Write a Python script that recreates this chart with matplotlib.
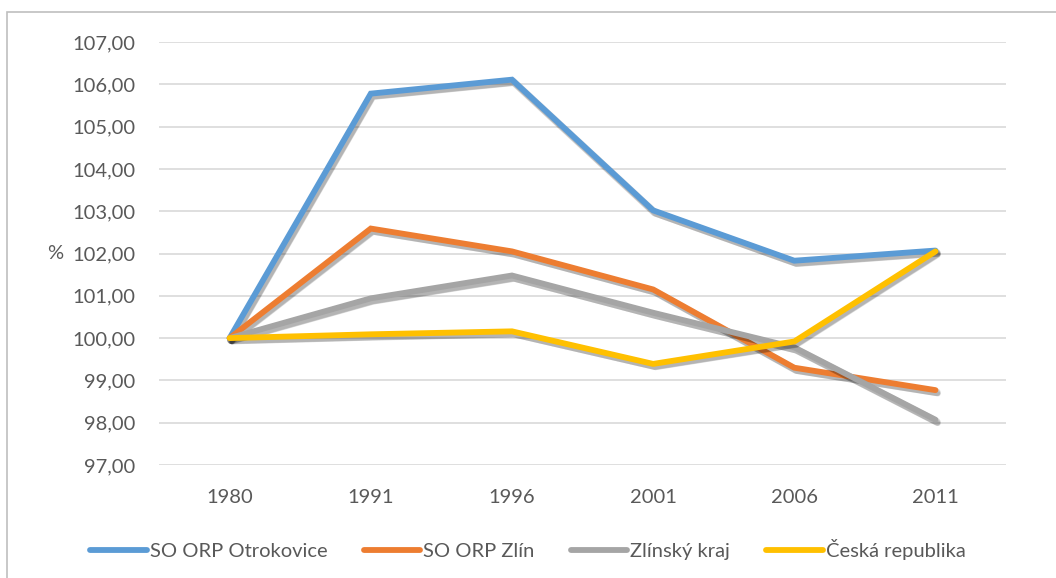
import matplotlib

matplotlib.use("Agg")

import matplotlib.patheffects as pe
import matplotlib.pyplot as plt
from matplotlib.lines import Line2D
from matplotlib.patches import Rectangle
from matplotlib.ticker import FuncFormatter

years = ["1980", "1991", "1996", "2001", "2006", "2011"]
otrokovice = [100.00, 105.78, 106.11, 103.02, 101.83, 102.07]
zlin = [100.00, 102.59, 102.05, 101.15, 99.30, 98.77]
zlinsky_kraj = [100.00, 100.94, 101.48, 100.60, 99.78, 98.07]
ceska_republika = [100.00, 100.09, 100.16, 99.39, 99.92, 102.05]

series = [
    ("SO ORP Otrokovice", otrokovice, "#5B9BD5"),
    ("SO ORP Zlín", zlin, "#ED7D31"),
    ("Zlínský kraj", zlinsky_kraj, "#A5A5A5"),
    ("Česká republika", ceska_republika, "#FFC000"),
]

plt.rcParams["font.family"] = ["Lato", "DejaVu Sans"]
text_color = "#595959"
font_size = 14.5

fig = plt.figure(figsize=(10.56, 5.78), dpi=100)
ax = fig.add_axes([0.1506, 0.1955, 0.8021, 0.7318])

# soft drop shadow: a few faint offset copies under the line
shadow = [
    pe.SimpleLineShadow(offset=(1.0, -1.5), alpha=0.12, shadow_color="black", linewidth=5.5),
    pe.SimpleLineShadow(offset=(1.5, -2.2), alpha=0.12, shadow_color="black", linewidth=4.5),
    pe.SimpleLineShadow(offset=(2.0, -2.8), alpha=0.08, shadow_color="black", linewidth=3.5),
    pe.Normal(),
]
positions = list(range(len(years)))
handles = []
for name, values, color in series:
    ax.plot(positions, values, color=color, linewidth=4.2,
            solid_joinstyle="miter", solid_capstyle="round", path_effects=shadow)
    handles.append(Line2D([], [], color=color, linewidth=4.2, solid_capstyle="round", label=name))

ax.set_xlim(-0.5, len(years) - 0.5)
ax.set_ylim(97, 107)
ax.set_yticks(range(97, 108))
ax.yaxis.set_major_formatter(FuncFormatter(lambda v, _: f"{v:.2f}".replace(".", ",")))
ax.set_xticks(positions)
ax.set_xticklabels(years)
ax.grid(axis="y", color="#d9d9d9", linewidth=1.2)
ax.set_axisbelow(True)
for spine in ax.spines.values():
    spine.set_visible(False)
ax.tick_params(axis="both", length=0, labelsize=font_size, colors=text_color)
ax.tick_params(axis="y", pad=17)
ax.tick_params(axis="x", pad=17)

ax.set_ylabel("%", rotation=0, fontsize=font_size, color=text_color, labelpad=12, va="center")

fig.legend(handles=handles, loc="lower center", bbox_to_anchor=(0.5, 0.0), ncol=4,
           frameon=False, fontsize=font_size, labelcolor=text_color, handlelength=2.8,
           handletextpad=0.15, columnspacing=1.8)

fig.patches.append(Rectangle((0.007, -0.1), 1.1, 1.079, transform=fig.transFigure,
                             fill=False, edgecolor="#bfbfbf", linewidth=1.2))

fig.savefig("out.png", dpi=100)
